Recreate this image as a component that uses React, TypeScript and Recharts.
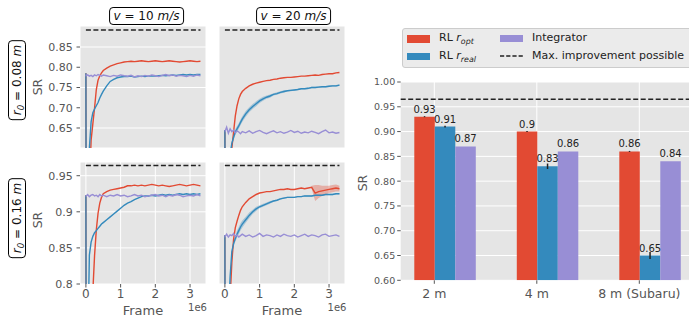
import React from "react"
import {
  ComposedChart,
  BarChart,
  Bar,
  Line,
  Area,
  XAxis,
  YAxis,
  CartesianGrid,
  ReferenceLine,
  LabelList,
  ErrorBar,
} from "recharts"

// ---- training curves (frame in units of 1e6) ----
const frames = [
  0, 0.01, 0.05, 0.1, 0.15, 0.2, 0.25, 0.3, 0.35, 0.4, 0.45, 0.5,
  0.6, 0.7, 0.8, 0.9, 1.0, 1.1, 1.2, 1.3, 1.4, 1.5,
  1.6, 1.7, 1.8, 1.9, 2.0, 2.1, 2.2, 2.3, 2.4, 2.5,
  2.6, 2.7, 2.8, 2.9, 3.0, 3.1, 3.2, 3.3,
]

// r0 = 0.08 m, v = 10 m/s
const tlOpt = [
  0.785, 0.3, 0.4, 0.5, 0.62, 0.66, 0.7, 0.745, 0.768, 0.779, 0.786, 0.792,
  0.798, 0.803, 0.806, 0.809, 0.811, 0.813, 0.814, 0.815, 0.814, 0.815,
  0.816, 0.815, 0.814, 0.815, 0.816, 0.815, 0.814, 0.815, 0.816, 0.815,
  0.814, 0.813, 0.814, 0.815, 0.816, 0.815, 0.814, 0.815,
]
const tlReal = [
  0.785, 0.3, 0.45, 0.6, 0.665, 0.688, 0.697, 0.705, 0.713, 0.724, 0.733, 0.741,
  0.754, 0.765, 0.77, 0.774, 0.776, 0.777, 0.777, 0.778, 0.776, 0.777,
  0.778, 0.777, 0.778, 0.779, 0.778, 0.779, 0.78, 0.779, 0.78, 0.781,
  0.78, 0.781, 0.782, 0.781, 0.782, 0.781, 0.782, 0.782,
]
const tlInt = [
  0.782, 0.779, 0.781, 0.778, 0.78, 0.777, 0.781, 0.779, 0.782, 0.78, 0.778, 0.781,
  0.779, 0.777, 0.78, 0.778, 0.781, 0.779, 0.778, 0.78, 0.776, 0.779,
  0.777, 0.78, 0.778, 0.781, 0.779, 0.777, 0.78, 0.782, 0.779, 0.781,
  0.778, 0.78, 0.779, 0.777, 0.78, 0.778, 0.781, 0.779,
]

// r0 = 0.08 m, v = 20 m/s
const trOpt = [
  0.645, 0.3, 0.35, 0.42, 0.5, 0.6, 0.64, 0.68, 0.705, 0.722, 0.733, 0.74,
  0.748, 0.754, 0.758, 0.761, 0.763, 0.765, 0.767, 0.768, 0.77, 0.771,
  0.773, 0.774, 0.775, 0.775, 0.776, 0.777, 0.778, 0.778, 0.779, 0.78,
  0.781, 0.78, 0.782, 0.783, 0.784, 0.784, 0.786, 0.787,
]
const trReal = [
  0.645, 0.3, 0.4, 0.5, 0.585, 0.612, 0.627, 0.64, 0.648, 0.655, 0.664, 0.672,
  0.685, 0.695, 0.703, 0.71, 0.717, 0.722, 0.726, 0.729, 0.733, 0.735,
  0.738, 0.74, 0.742, 0.743, 0.744, 0.745, 0.747, 0.747, 0.748, 0.75,
  0.75, 0.751, 0.752, 0.752, 0.753, 0.754, 0.754, 0.756,
]
const trRealSd = [
  0, 0, 0, 0, 0.004, 0.006, 0.007, 0.007, 0.007, 0.007, 0.007, 0.007,
  0.007, 0.006, 0.006, 0.006, 0.005, 0.005, 0.004, 0.004, 0.003, 0.003,
  0.003, 0.003, 0.002, 0.002, 0.002, 0.002, 0.002, 0.002, 0.002, 0.002,
  0.002, 0.002, 0.002, 0.002, 0.002, 0.002, 0.002, 0.002,
]
const trInt = [
  0.645, 0.643, 0.652, 0.637, 0.648, 0.641, 0.645, 0.638, 0.643, 0.64, 0.636, 0.641,
  0.638, 0.643, 0.637, 0.641, 0.644, 0.639, 0.636, 0.64, 0.643, 0.638,
  0.641, 0.637, 0.64, 0.644, 0.639, 0.642, 0.637, 0.64, 0.638, 0.642,
  0.639, 0.636, 0.641, 0.645, 0.638, 0.64, 0.637, 0.639,
]

// r0 = 0.16 m, v = 10 m/s
const blOpt = [
  0.923, 0.5, 0.55, 0.6, 0.7, 0.79, 0.84, 0.875, 0.898, 0.912, 0.92, 0.925,
  0.928, 0.93, 0.931, 0.932, 0.933, 0.934, 0.936, 0.936, 0.937, 0.936,
  0.937, 0.936, 0.937, 0.938, 0.937, 0.936, 0.937, 0.936, 0.935, 0.936,
  0.937, 0.938, 0.937, 0.936, 0.937, 0.938, 0.937, 0.936,
]
const blReal = [
  0.923, 0.6, 0.7, 0.84, 0.858, 0.866, 0.871, 0.874, 0.877, 0.88, 0.883, 0.885,
  0.889, 0.893, 0.897, 0.901, 0.905, 0.909, 0.912, 0.914, 0.917, 0.919,
  0.921, 0.922, 0.922, 0.923, 0.922, 0.923, 0.924, 0.923, 0.924, 0.923,
  0.924, 0.925, 0.924, 0.925, 0.924, 0.925, 0.924, 0.925,
]
const blInt = [
  0.923, 0.922, 0.924, 0.921, 0.923, 0.924, 0.922, 0.923, 0.921, 0.924, 0.922, 0.923,
  0.921, 0.923, 0.922, 0.924, 0.922, 0.923, 0.921, 0.922, 0.924, 0.922,
  0.923, 0.921, 0.922, 0.923, 0.924, 0.922, 0.923, 0.921, 0.923, 0.922,
  0.924, 0.923, 0.921, 0.922, 0.923, 0.922, 0.924, 0.922,
]

// r0 = 0.16 m, v = 20 m/s
const brOpt = [
  0.868, 0.5, 0.55, 0.65, 0.78, 0.83, 0.862, 0.878, 0.887, 0.895, 0.902, 0.907,
  0.913, 0.918, 0.921, 0.924, 0.926, 0.927, 0.928, 0.928, 0.929, 0.93,
  0.931, 0.931, 0.932, 0.931, 0.931, 0.932, 0.933, 0.932, 0.933, 0.934,
  0.926, 0.928, 0.929, 0.93, 0.931, 0.932, 0.933, 0.932,
]
const brOptSd = [
  0, 0, 0, 0, 0, 0, 0, 0, 0, 0, 0, 0,
  0, 0, 0, 0, 0, 0, 0, 0, 0, 0,
  0, 0, 0, 0, 0, 0, 0, 0, 0, 0.002,
  0.011, 0.009, 0.007, 0.006, 0.005, 0.005, 0.005, 0.004,
]
const brReal = [
  0.868, 0.5, 0.65, 0.75, 0.81, 0.845, 0.856, 0.863, 0.869, 0.874, 0.879, 0.883,
  0.889, 0.895, 0.9, 0.904, 0.907, 0.909, 0.911, 0.913, 0.915, 0.916,
  0.918, 0.919, 0.92, 0.92, 0.92, 0.921, 0.921, 0.922, 0.922, 0.922,
  0.923, 0.923, 0.923, 0.924, 0.924, 0.924, 0.925, 0.925,
]
const brRealSd = [
  0, 0, 0, 0, 0, 0.003, 0.004, 0.004, 0.005, 0.005, 0.005, 0.005,
  0.004, 0.004, 0.003, 0.003, 0.002, 0.002, 0.002, 0.002, 0.001, 0.001,
  0.001, 0.001, 0.001, 0.001, 0.001, 0.001, 0.001, 0.001, 0.001, 0.001,
  0.001, 0.001, 0.001, 0.001, 0.001, 0.001, 0.001, 0.001,
]
const brInt = [
  0.868, 0.866, 0.869, 0.865, 0.868, 0.867, 0.87, 0.866, 0.868, 0.865, 0.867, 0.869,
  0.866, 0.868, 0.865, 0.867, 0.87, 0.866, 0.868, 0.867, 0.865, 0.868,
  0.866, 0.869, 0.867, 0.866, 0.868, 0.865, 0.867, 0.869, 0.866, 0.868,
  0.867, 0.865, 0.868, 0.869, 0.866, 0.867, 0.868, 0.866,
]

const maxSR008 = 0.892
const maxSR016 = 0.964
const frameTicks = [0, 1, 2, 3]
const ticks008 = [0.65, 0.7, 0.75, 0.8, 0.85]
const ticks016 = [0.8, 0.85, 0.9, 0.95]

// ---- telescope comparison ----
const apertures = ["2 m", "4 m", "8 m (Subaru)"]
const rlOpt = [0.93, 0.9, 0.86]
const rlReal = [0.91, 0.83, 0.65]
const integrator = [0.87, 0.86, 0.84]
const rlOptErr = [0.001, 0.001, 0.001]
const rlRealErr = [0.002, 0.0055, 0.007]
const maxImprovement = 0.965
const barTicks = [0.6, 0.65, 0.7, 0.75, 0.8, 0.85, 0.9, 0.95, 1.0]

const FONT = "'DejaVu Sans', sans-serif"
const TXT = "#555"
const BG = "#E5E5E5"
const C_OPT = "#E24A33"
const C_REAL = "#348ABD"
const C_INT = "#988ED5"
const BAR_SIZE = 20.5
const PAD_L = -7.4
const PAD_R = -7.2

const band = (v: number[], sd: number[] | undefined, i: number) =>
  sd && sd[i] > 0 ? [v[i] - sd[i], v[i] + sd[i]] : null

const buildPanel = (opt: number[], real: number[], integ: number[], optSd?: number[], realSd?: number[]) =>
  frames.map((f, i) => ({
    frame: f,
    opt: opt[i],
    real: real[i],
    integ: integ[i],
    optBand: band(opt, optSd, i),
    realBand: band(real, realSd, i),
  }))

const panels = [
  { key: "tl", left: 0, top: 0, data: buildPanel(tlOpt, tlReal, tlInt), row: 0, showY: true },
  { key: "tr", left: 210, top: 0, data: buildPanel(trOpt, trReal, trInt, undefined, trRealSd), row: 0, showY: false },
  { key: "bl", left: 0, top: 150, data: buildPanel(blOpt, blReal, blInt), row: 1, showY: true },
  { key: "br", left: 210, top: 150, data: buildPanel(brOpt, brReal, brInt, brOptSd, brRealSd), row: 1, showY: false },
]

const Panel = ({ p }: { p: (typeof panels)[number] }) => {
  const top = p.row === 0
  const width = p.showY ? 210 : 139
  const height = top ? 150 : 172
  const margin = { top: top ? 26 : 12, right: 4, bottom: 0, left: p.showY ? 40 : 9 }
  return (
    <div style={{ position: "absolute", left: p.left, top: p.top }}>
      <ComposedChart width={width} height={height} data={p.data} margin={margin}>
        <CartesianGrid fill={BG} stroke="#fff" strokeWidth={1} />
        <XAxis
          dataKey="frame"
          type="number"
          domain={[-0.17, 3.46]}
          ticks={frameTicks}
          allowDataOverflow
          height={top ? 2 : 38}
          axisLine={false}
          tick={top ? false : { fill: TXT, fontSize: 12, fontFamily: FONT }}
          tickLine={top ? false : { stroke: TXT }}
          tickSize={3.5}
          tickMargin={2}
        />
        <YAxis
          type="number"
          domain={top ? [0.6006, 0.9019] : [0.8, 0.969]}
          ticks={top ? ticks008 : ticks016}
          allowDataOverflow
          width={p.showY ? 40 : 0}
          axisLine={false}
          tick={p.showY ? { fill: TXT, fontSize: 11, fontFamily: FONT } : false}
          tickLine={p.showY ? { stroke: TXT } : false}
          tickSize={3.5}
          tickMargin={3.8}
          tickFormatter={(v: number) => (top ? v.toFixed(2) : String(v))}
        />
        <Area dataKey="realBand" stroke="none" fill={C_REAL} fillOpacity={0.35} dot={false} activeDot={false} isAnimationActive={false} />
        <Area dataKey="optBand" stroke="none" fill={C_OPT} fillOpacity={0.35} dot={false} activeDot={false} isAnimationActive={false} />
        <Line dataKey="opt" stroke={C_OPT} strokeWidth={1.4} dot={false} activeDot={false} isAnimationActive={false} />
        <Line dataKey="real" stroke={C_REAL} strokeWidth={1.4} dot={false} activeDot={false} isAnimationActive={false} />
        <Line dataKey="integ" stroke={C_INT} strokeWidth={1.4} dot={false} activeDot={false} isAnimationActive={false} />
        <ReferenceLine
          segment={[
            { x: 0, y: top ? maxSR008 : maxSR016 },
            { x: 3.3, y: top ? maxSR008 : maxSR016 },
          ]}
          stroke="#222"
          strokeWidth={1.5}
          strokeDasharray="5 2.5"
        />
      </ComposedChart>
    </div>
  )
}

const barData = apertures.map((a, i) => ({
  aperture: a,
  opt: rlOpt[i],
  real: rlReal[i],
  integ: integrator[i],
  optErr: rlOptErr[i],
  realErr: rlRealErr[i],
}))

// matplotlib puts the category tick at the left edge of the middle bar
const gridX = ({ xAxis, offset }: any) => {
  const s = xAxis?.scale
  const f =
    typeof s === "function" ? (v: string) => s(v) : s && typeof s.map === "function" ? (v: string) => s.map(v) : null
  const bw = s && typeof s.bandwidth === "function" ? s.bandwidth() : null
  if (f && bw != null && Number.isFinite(f(apertures[0]))) {
    return apertures.map((a) => f(a) + bw / 2 - BAR_SIZE / 2)
  }
  const start = offset.left + PAD_L
  const step = (offset.width - PAD_L - PAD_R) / apertures.length
  return apertures.map((_, i) => start + step * (i + 0.5) - BAR_SIZE / 2)
}

const ApertureTick = (props: any) => {
  const { x, y, payload } = props
  const gx = x - BAR_SIZE / 2
  return (
    <g>
      <line x1={gx} x2={gx} y1={y} y2={y + 3.5} stroke={TXT} />
      <text x={gx} y={y + 17.2} textAnchor="middle" fill={TXT} fontSize={12.5} fontFamily={FONT}>
        {payload.value}
      </text>
    </g>
  )
}

const barLabel = { fill: "#222", fontSize: 10, fontFamily: FONT }

const Sub = ({ r, s }: { r: string; s: string }) => (
  <span>
    <i>{r}</i>
    <i style={{ fontSize: "0.72em", position: "relative", top: 3 }}>{s}</i>
  </span>
)

const legendItems = [
  { label: <>RL <Sub r="r" s="opt" /></>, color: C_OPT, dashed: false, x: 4.3, y: 5.6 },
  { label: <>RL <Sub r="r" s="real" /></>, color: C_REAL, dashed: false, x: 4.3, y: 23.5 },
  { label: <>Integrator</>, color: C_INT, dashed: false, x: 97.3, y: 5.6 },
  { label: <>Max. improvement possible</>, color: "#222", dashed: true, x: 97.3, y: 23.5 },
]

const abs = (cx: number, cy: number, rotate = false): React.CSSProperties => ({
  position: "absolute",
  left: cx,
  top: cy,
  transform: `translate(-50%, -50%)${rotate ? " rotate(-90deg)" : ""}`,
  whiteSpace: "nowrap",
  lineHeight: 1,
  fontFamily: FONT,
})

const boxStyle: React.CSSProperties = {
  border: "1px solid #000",
  borderRadius: 4,
  padding: "2px 4px",
  background: "#fff",
  fontSize: 12,
  color: "#111",
}

export default function App() {
  return (
    <div style={{ position: "absolute", left: 0, top: 0, width: 689, height: 322, overflow: "hidden", background: "#fff" }}>
      {panels.map((p) => (
        <Panel key={p.key} p={p} />
      ))}

      {/* column / row headers */}
      <div style={{ ...abs(146.5, 15.5), ...boxStyle }}>
        <i>v</i> = 10 <i>m/s</i>
      </div>
      <div style={{ ...abs(293.5, 15.5), ...boxStyle }}>
        <i>v</i> = 20 <i>m/s</i>
      </div>
      <div style={{ ...abs(16.5, 80, true), ...boxStyle }}>
        <Sub r="r" s="0" /> = 0.08 <i>m</i>
      </div>
      <div style={{ ...abs(16.5, 218, true), ...boxStyle }}>
        <Sub r="r" s="0" /> = 0.16 <i>m</i>
      </div>

      <div style={{ ...abs(38, 87, true), fontSize: 12.5, color: TXT }}>SR</div>
      <div style={{ ...abs(38, 220, true), fontSize: 12.5, color: TXT }}>SR</div>
      <div style={{ ...abs(143, 310), fontSize: 13, color: TXT }}>Frame</div>
      <div style={{ ...abs(282, 310), fontSize: 13, color: TXT }}>Frame</div>
      <div style={{ ...abs(197.5, 307.7), fontSize: 10, color: TXT }}>1e6</div>
      <div style={{ ...abs(337, 307.7), fontSize: 10, color: TXT }}>1e6</div>

      {/* bar chart */}
      <div style={{ position: "absolute", left: 350, top: 0 }}>
        <BarChart
          width={360}
          height={322}
          data={barData}
          margin={{ top: 82, right: 16.4, bottom: 0, left: 10.7 }}
          barSize={BAR_SIZE}
          barGap={0}
        >
          <CartesianGrid fill={BG} stroke="#fff" verticalCoordinatesGenerator={gridX} />
          <XAxis
            dataKey="aperture"
            padding={{ left: PAD_L, right: PAD_R }}
            axisLine={false}
            tickLine={false}
            tickSize={0}
            tickMargin={0}
            height={41.7}
            interval={0}
            tick={<ApertureTick />}
          />
          <YAxis
            type="number"
            domain={[0.6, 1.0]}
            ticks={barTicks}
            allowDataOverflow
            width={40}
            axisLine={false}
            tick={{ fill: TXT, fontSize: 9.5, fontFamily: FONT }}
            tickLine={{ stroke: TXT }}
            tickSize={3.5}
            tickMargin={2}
            tickFormatter={(v: number) => v.toFixed(2)}
          />
          <ReferenceLine y={maxImprovement} stroke="#222" strokeWidth={1.5} strokeDasharray="5 2.5" />
          <Bar dataKey="opt" fill={C_OPT} isAnimationActive={false}>
            <ErrorBar dataKey="optErr" width={0} stroke="#222" strokeWidth={1.5} direction="y" />
            <LabelList dataKey="opt" position="top" offset={4} {...barLabel} />
          </Bar>
          <Bar dataKey="real" fill={C_REAL} isAnimationActive={false}>
            <ErrorBar dataKey="realErr" width={0} stroke="#222" strokeWidth={1.5} direction="y" />
            <LabelList dataKey="real" position="top" offset={4} {...barLabel} />
          </Bar>
          <Bar dataKey="integ" fill={C_INT} isAnimationActive={false}>
            <LabelList dataKey="integ" position="top" offset={4} {...barLabel} />
          </Bar>
        </BarChart>
      </div>
      <div style={{ ...abs(363, 183, true), fontSize: 12.5, color: TXT }}>SR</div>

      {/* legend */}
      <div
        style={{
          position: "absolute",
          left: 401.7,
          top: 27.7,
          width: 300,
          height: 38,
          background: "#EBEBEB",
          border: "1px solid #CCC",
          borderRadius: 3,
          fontFamily: FONT,
          fontSize: 11,
          color: "#222",
        }}
      >
        {legendItems.map((it, i) => (
          <div key={i} style={{ position: "absolute", left: it.x, top: it.y, display: "flex", alignItems: "center" }}>
            {it.dashed ? (
              <svg width={23} height={8}>
                <line x1={0} x2={23} y1={4} y2={4} stroke={it.color} strokeWidth={1.5} strokeDasharray="4.2 2" />
              </svg>
            ) : (
              <div style={{ width: 23, height: 7.5, background: it.color }} />
            )}
            <span style={{ marginLeft: 9, lineHeight: "8px", whiteSpace: "nowrap" }}>{it.label}</span>
          </div>
        ))}
      </div>
    </div>
  )
}
